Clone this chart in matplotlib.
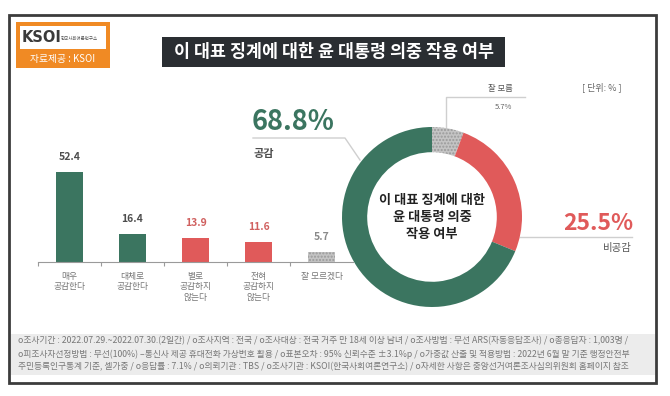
import matplotlib.pyplot as plt
from matplotlib.patches import Rectangle

plt.rcParams['font.family'] = ['Noto Sans CJK KR', 'DejaVu Sans']

# bar chart data
CATEGORIES = ['매우\n공감한다', '대체로\n공감한다', '별로\n공감하지\n않는다', '전혀\n공감하지\n않는다', '잘 모르겠다']
VALUES = [52.4, 16.4, 13.9, 11.6, 5.7]

# donut data (clockwise from top)
DONUT_NAMES = ['잘 모름', '비공감', '공감']
DONUT_VALUES = [5.7, 25.5, 68.8]

GREEN = '#3b7560'
RED = '#e05a5a'
GRAY = '#c4c4c4'
BAR_COLORS = [GREEN, GREEN, RED, RED, GRAY]
LABEL_COLORS = ['#4d4d4d', '#4d4d4d', '#d0605f', '#d0605f', '#8a8a8a']

TITLE = '이 대표 징계에 대한 윤 대통령 의중 작용 여부'
CENTER_TEXT = '이 대표 징계에 대한\n윤 대통령 의중\n작용 여부'
FOOTER = [
    'o조사기간 : 2022.07.29.~2022.07.30.(2일간) / o조사지역 : 전국 / o조사대상 : 전국 거주 만 18세 이상 남녀 / o조사방법 : 무선 ARS(자동응답조사) / o총응답자 : 1,003명 /',
    'o피조사자선정방법 : 무선(100%) –통신사 제공 휴대전화 가상번호 활용 / o표본오차 : 95% 신뢰수준 ±3.1%p / o가중값 산출 및 적용방법 : 2022년 6월 말 기준 행정안전부',
    '주민등록인구통계 기준, 셀가중 / o응답률 : 7.1% / o의뢰기관 : TBS / o조사기관 : KSOI(한국사회여론연구소) / o자세한 사항은 중앙선거여론조사심의위원회 홈페이지 참조',
]

W, H = 670, 396
fig = plt.figure(figsize=(W / 100, H / 100), dpi=100)


def px_axes(x0, y0, x1, y1, **kw):
    return fig.add_axes([x0 / W, 1 - y1 / H, (x1 - x0) / W, (y1 - y0) / H], **kw)


# background / decoration in pixel coordinates
bg = px_axes(0, 0, W, H)
bg.set_xlim(0, W)
bg.set_ylim(H, 0)
bg.axis('off')
bg.add_patch(Rectangle((9, 15), 647, 368, fill=False, ec='#3c3c3c', lw=2))
bg.add_patch(Rectangle((11, 334), 644, 41, fc='#ececec', ec='none'))

# logo
bg.add_patch(Rectangle((16, 22), 94, 46, fc='#f08a24', ec='none'))
bg.add_patch(Rectangle((20, 26), 86, 23, fc='white', ec='none'))
bg.text(22, 38, 'KSOI', fontsize=10.5, fontweight='bold', color='#3a3a3a', va='center', family='DejaVu Sans')
bg.text(61, 38, '한국사회여론연구소', fontsize=3.2, color='#555555', va='center')
bg.text(63, 59, '자료제공 : KSOI', fontsize=7, color='white', ha='center', va='center')

# title box
bg.add_patch(Rectangle((162, 37), 343, 30, fc='#2a2e32', ec='none'))
bg.text(334, 52, TITLE, fontsize=12.5, color='white', ha='center', va='center', fontweight='bold')
bg.text(602, 87, '[ 단위: % ]', fontsize=6.5, color='#666666', ha='center', va='center')

for i, line in enumerate(FOOTER):
    bg.text(18, 341 + i * 13, line, fontsize=6.3, color='#777777', va='center')

# bar chart
ax = px_axes(38, 150, 353, 262)
ax.patch.set_alpha(0)
x = list(range(len(VALUES)))
bars = ax.bar(x, VALUES, width=0.42, color=BAR_COLORS)
bars[-1].set_hatch('.....')
bars[-1].set_edgecolor('#9a9a9a')
bars[-1].set_linewidth(0)
ax.set_xlim(-0.5, 4.5)
ax.set_ylim(0, 65)
for s in ['top', 'right', 'left']:
    ax.spines[s].set_visible(False)
ax.spines['bottom'].set_color('#9a9a9a')
ax.spines['bottom'].set_linewidth(0.8)
ax.set_yticks([])
ax.set_xticks([i + 0.5 for i in range(-1, 4)])
ax.set_xticklabels([])
ax.tick_params(axis='x', length=3, color='#9a9a9a', direction='out')
for xi, v, c in zip(x, VALUES, LABEL_COLORS):
    ax.annotate(f'{v:.1f}', (xi, v), xytext=(0, 7), textcoords='offset points',
                ha='center', va='bottom', fontsize=7.5, fontweight='bold', color=c)
for xi, lab in zip(x, CATEGORIES):
    ax.annotate(lab, (xi, 0), xytext=(0, -7), textcoords='offset points',
                ha='center', va='top', fontsize=6.3, color='#777777', linespacing=1.25)

# donut
dx = px_axes(342, 127, 522, 307)
dx.patch.set_alpha(0)
wedges, _ = dx.pie(DONUT_VALUES, colors=[GRAY, RED, GREEN], startangle=90, counterclock=False,
                   radius=1, wedgeprops=dict(width=0.28, linewidth=0))
wedges[0].set_hatch('.....')
wedges[0].set_edgecolor('#9a9a9a')
wedges[0].set_linewidth(0)
dx.set_xlim(-1, 1)
dx.set_ylim(-1, 1)
dx.set_aspect('equal')
dx.text(0, 0, CENTER_TEXT, ha='center', va='center', fontsize=9.5, fontweight='bold',
        color='#222222', linespacing=1.3)

# donut callouts
bg.text(252, 122, f'{DONUT_VALUES[2]}%', fontsize=19.5, fontweight='bold', color=GREEN, va='center')
bg.text(253, 153, DONUT_NAMES[2], fontsize=8, fontweight='bold', color='#4d4d4d', va='center')
bg.plot([253, 345, 360], [138, 138, 160], color='#cfcfcf', lw=1)

bg.text(633, 224, f'{DONUT_VALUES[1]}%', fontsize=16.5, fontweight='bold', color=RED, va='center', ha='right')
bg.text(632, 248, DONUT_NAMES[1], fontsize=7.5, color='#555555', va='center', ha='right')
bg.plot([520, 632], [237, 237], color='#cfcfcf', lw=1)

bg.text(500, 88, DONUT_NAMES[0], fontsize=6, color='#555555', va='center', ha='center')
bg.text(503, 107, f'{DONUT_VALUES[0]}%', fontsize=5.5, color='#666666', va='center', ha='center')
bg.plot([446, 446, 525], [128, 97, 97], color='#cfcfcf', lw=1)

fig.savefig('out.png', dpi=100)
